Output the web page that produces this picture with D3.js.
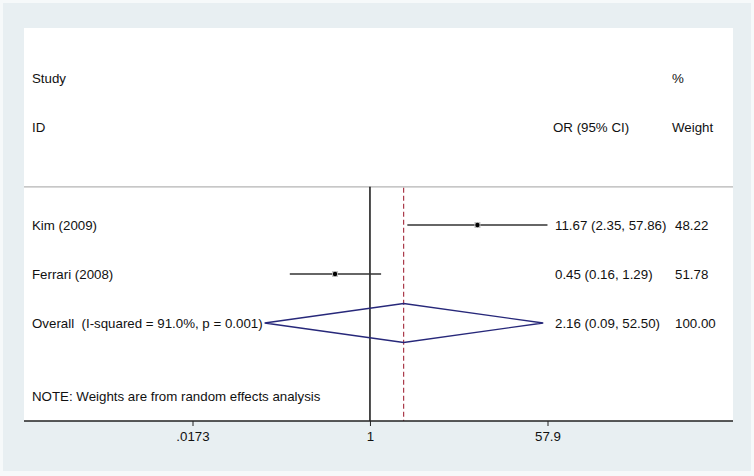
<!DOCTYPE html>
<html>
<head>
<meta charset="utf-8">
<script src="https://cdn.jsdelivr.net/npm/d3@7"></script>
<style>
  html, body { margin: 0; padding: 0; background: #f6f9fa; }
  svg { display: block; }
  text { font-family: "Liberation Sans", Arial, sans-serif; font-size: 13.3px; fill: #111; white-space: pre; }
</style>
</head>
<body>
<div id="chart"></div>
<script>
// ---- Data ----
const studies = ["Kim (2009)", "Ferrari (2008)"];
const oddsRatio = [11.67, 0.45];
const ciLow = [2.35, 0.16];
const ciHigh = [57.86, 1.29];
const weights = [48.22, 51.78];
const overallLabel = "Overall  (I-squared = 91.0%, p = 0.001)";
const overallOR = [2.16];
const overallLow = [0.09];
const overallHigh = [52.50];
const overallWeight = ["100.00"];
const tickValues = [0.0173, 1, 57.9];
const tickLabels = [".0173", "1", "57.9"];
const noteText = "NOTE: Weights are from random effects analysis";

// ---- Layout ----
const W = 754, H = 476;
const frame = { x: 3, y: 3, w: 748, h: 468 };
const panel = { left: 24, right: 733, top: 28 };
const labelX = 32, ciTextX = 555, weightX = 675;

const svg = d3.select("#chart").append("svg").attr("width", W).attr("height", H);

svg.append("rect").attr("x", frame.x).attr("y", frame.y).attr("width", frame.w).attr("height", frame.h)
  .attr("fill", "#e8eff2");

// row scale: rows are evenly spaced
const y = d3.scaleLinear().domain([0, 7]).range([78, 421]);
const axisY = y(7);

svg.append("rect").attr("x", panel.left).attr("y", panel.top)
  .attr("width", panel.right - panel.left).attr("height", axisY - panel.top)
  .attr("fill", "#ffffff");

// x log scale
const x = d3.scaleLog().domain([tickValues[0], tickValues[2]]).range([192.5, 547.5]);

const fmt2 = d3.format(".2f");

function addText(sel, tx, ty, str) {
  return sel.append("text").attr("x", tx).attr("y", ty).attr("dy", "0.35em")
    .attr("xml:space", "preserve").text(str);
}

// headers
addText(svg, labelX, y(0), "Study");
addText(svg, labelX, y(1), "ID");
addText(svg, ciTextX - 2, y(1), "OR (95% CI)");
addText(svg, weightX - 3, y(0), "%");
addText(svg, weightX - 3, y(1), "Weight");

// separator line
const sepY = y(2.22);
svg.append("line").attr("x1", panel.left).attr("x2", panel.right).attr("y1", sepY).attr("y2", sepY)
  .attr("stroke", "#b4b4b4").attr("stroke-width", 1.2);

// null line
svg.append("line").attr("x1", x(1)).attr("x2", x(1)).attr("y1", sepY).attr("y2", axisY)
  .attr("stroke", "#000").attr("stroke-width", 1.4);

// overall dashed line
svg.append("line").attr("x1", x(overallOR[0])).attr("x2", x(overallOR[0])).attr("y1", sepY + 1).attr("y2", axisY)
  .attr("stroke", "#a3283a").attr("stroke-width", 1.1).attr("stroke-dasharray", "5,3");

// study rows
const rows = studies.map((s, i) => ({ name: s, or: oddsRatio[i], lo: ciLow[i], hi: ciHigh[i], w: weights[i], row: 3 + i }));

const g = svg.append("g");
rows.forEach(d => {
  const cy = y(d.row);
  addText(g, labelX, cy, d.name);
  g.append("line").attr("x1", x(d.lo)).attr("x2", x(d.hi)).attr("y1", cy).attr("y2", cy)
    .attr("stroke", "#333").attr("stroke-width", 1.3);
  const bs = 6;
  g.append("rect").attr("x", x(d.or) - bs / 2).attr("y", cy - bs / 2).attr("width", bs).attr("height", bs)
    .attr("fill", "#c4c4c4");
  g.append("circle").attr("cx", x(d.or)).attr("cy", cy).attr("r", 2.2).attr("fill", "#000");
  const ciStr = fmt2(d.or) + " (" + fmt2(d.lo) + ", " + fmt2(d.hi) + ")";
  addText(g, ciTextX, cy, ciStr);
  addText(g, weightX, cy, fmt2(d.w));
});

// overall
const oy = y(5);
addText(svg, labelX, oy, overallLabel);
const dh = 19.5;
svg.append("path")
  .attr("d", d3.line()([
    [x(overallLow[0]), oy], [x(overallOR[0]), oy - dh], [x(overallHigh[0]), oy], [x(overallOR[0]), oy + dh]
  ]) + "Z")
  .attr("fill", "none").attr("stroke", "#27287a").attr("stroke-width", 1.3);
addText(svg, ciTextX, oy, fmt2(overallOR[0]) + " (" + fmt2(overallLow[0]) + ", " + fmt2(overallHigh[0]) + ")");
addText(svg, weightX, oy, overallWeight[0]);

// note
addText(svg, labelX, y(6.5), noteText);

// axis
const axisG = svg.append("g").attr("transform", `translate(0,${axisY})`);
axisG.append("line").attr("x1", panel.left).attr("x2", panel.right).attr("y1", 0).attr("y2", 0)
  .attr("stroke", "#222").attr("stroke-width", 1.5);
const axis = d3.axisBottom(x).tickValues(tickValues).tickSize(5).tickPadding(6)
  .tickFormat((d, i) => tickLabels[i]);
const ag = axisG.append("g").call(axis);
ag.select(".domain").remove();
ag.selectAll(".tick line").attr("stroke", "#222").attr("stroke-width", 1);
ag.selectAll(".tick text").attr("font-family", "Liberation Sans, Arial, sans-serif").attr("font-size", 13.3).attr("fill", "#111");
</script>
</body>
</html>
